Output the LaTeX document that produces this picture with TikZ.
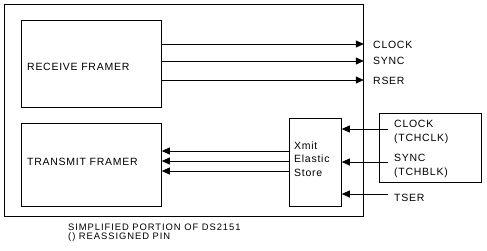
\documentclass[tikz,border=0pt]{standalone}
\usepackage{fontspec}
\setmainfont{Liberation Sans}
\usetikzlibrary{arrows.meta}
\begin{document}
\begin{tikzpicture}[x=1pt,y=-1pt,
  box/.style={draw,line width=0.8pt,anchor=north west,inner sep=0pt},
  lbl/.style={anchor=west,inner sep=0pt,font=\fontsize{10.5}{13.5}\selectfont\addfontfeature{LetterSpace=7}},
  captext/.style={anchor=west,inner sep=0pt,font=\fontsize{9.4}{10}\selectfont\addfontfeature{LetterSpace=10}},
  arr/.style={line width=0.8pt,-{Triangle[length=8pt,width=7pt]}}]
\useasboundingbox (0,0) rectangle (487,250);
\node[box,minimum width=359pt,minimum height=212pt] (outer) at (4,4) {};
\node[box,minimum width=140pt,minimum height=87pt] (rx) at (21,20) {};
\node[box,minimum width=140pt,minimum height=83pt] (tx) at (21,123) {};
\node[box,minimum width=52pt,minimum height=88pt] (store) at (289,118) {};
\node[box,minimum width=102pt,minimum height=69pt] (ext) at (379,113) {};
\node[lbl] (rxt) at (27,67) {RECEIVE FRAMER};
\node[lbl] (txt) at (27,162) {TRANSMIT FRAMER};
\node[lbl,align=left] (stt) at (294,159) {Xmit\\Elastic\\Store};
% receive outputs
\node[lbl] (lclk) at (373,45) {CLOCK};
\node[lbl] (lsync) at (373,61) {SYNC};
\node[lbl] (lrser) at (373,81) {RSER};
\coordinate (r1) at (161,44);
\coordinate (r2) at (161,61);
\coordinate (r3) at (161,80);
\draw[arr] (r1) -- (outer.east |- r1);
\draw[arr] (r2) -- (outer.east |- r2);
\draw[arr] (r3) -- (outer.east |- r3);
% store to transmit
\coordinate (t1) at (289,151);
\coordinate (t2) at (289,161);
\coordinate (t3) at (289,171);
\draw[arr] (t1) -- (tx.east |- t1);
\draw[arr] (t2) -- (tx.east |- t2);
\draw[arr] (t3) -- (tx.east |- t3);
% external inputs
\node[lbl,align=left] (lc) at (394,132) {CLOCK\\(TCHCLK)};
\node[lbl,align=left] (ls) at (394,166) {SYNC\\(TCHBLK)};
\node[lbl] (lt) at (394,198) {TSER};
\coordinate (i1) at (388,129);
\coordinate (i2) at (388,162);
\coordinate (i3) at (388,194);
\draw[arr] (i1) -- (store.east |- i1);
\draw[arr] (i2) -- (store.east |- i2);
\draw[arr] (i3) -- (store.east |- i3);
% caption
\node[captext] (c1) at (68,227) {SIMPLIFIED PORTION OF DS2151};
\node[captext] (c2) at (68,237) {() REASSIGNED PIN};
\end{tikzpicture}
\end{document}
